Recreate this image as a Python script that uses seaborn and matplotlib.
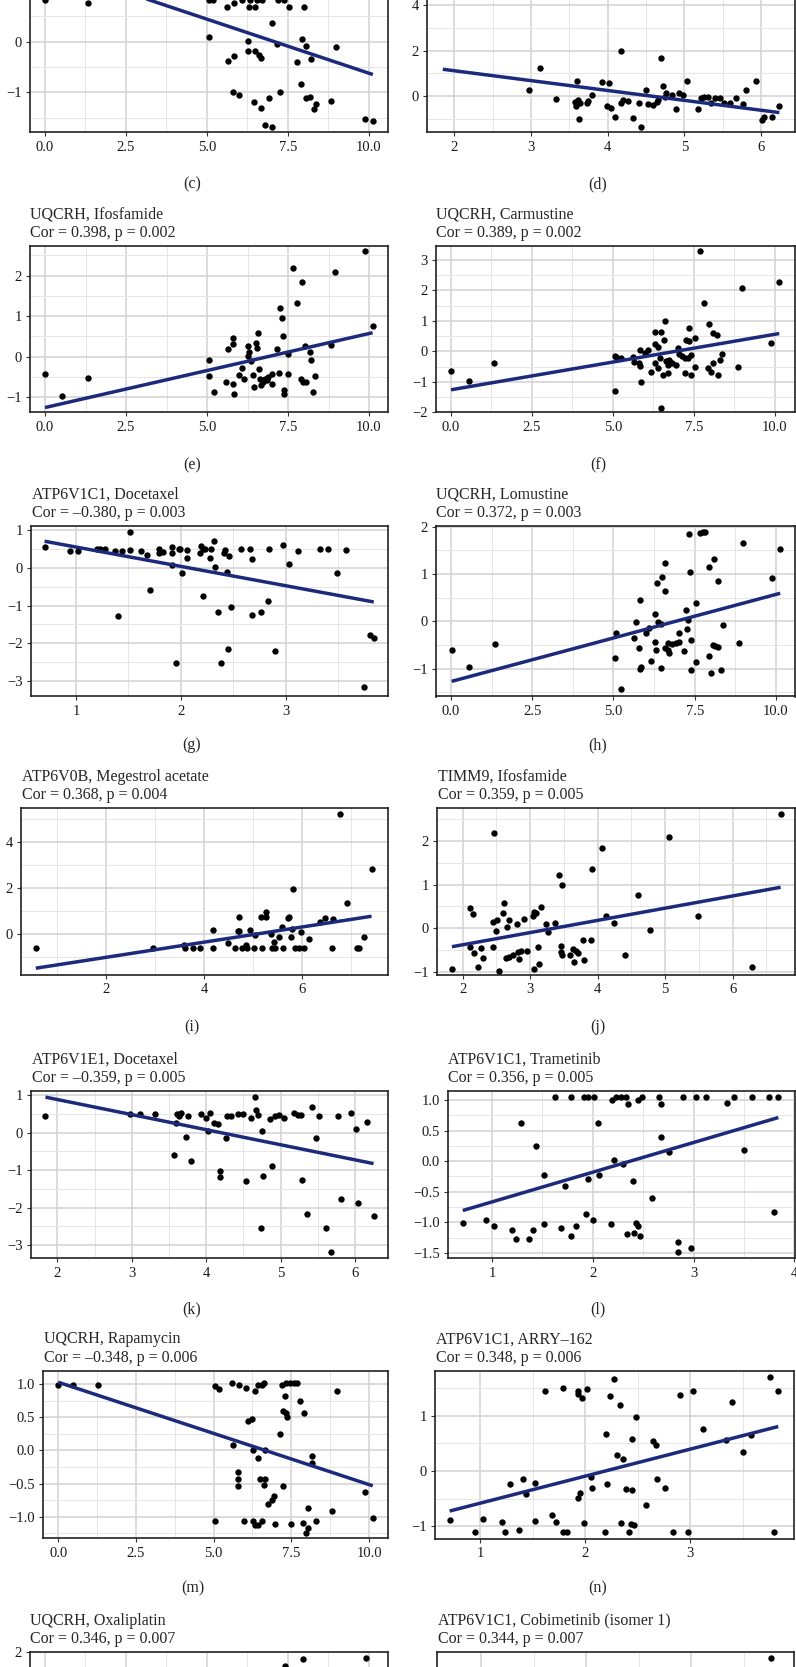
import numpy as np
import matplotlib
matplotlib.use("Agg")
import matplotlib.pyplot as plt
import seaborn as sns
from matplotlib.ticker import MultipleLocator

# ---- data (gene expression vs drug sensitivity) ----
c_x = [0.00, 1.34, 5.05, 5.20, 5.61, 5.82, 6.08, 6.31, 6.49, 6.33, 6.54, 6.69, 7.00, 7.20, 7.37, 7.52, 7.98,
       5.06, 6.26, 6.28, 6.47, 6.59, 6.66, 7.16, 7.93, 8.06, 8.21, 8.97, 5.66, 5.82, 7.79, 5.80, 5.98, 6.46,
       6.68, 6.91, 7.24, 7.90, 8.06, 8.19, 8.29, 8.35, 8.84, 6.80, 7.00, 9.89, 10.12,
       0.52, 5.07, 5.22, 5.59, 5.79, 6.14, 6.43, 6.61, 6.74, 7.05, 7.26, 7.35, 7.66, 7.92, 8.03]
c_y = [0.82, 0.76, 0.82, 0.82, 0.68, 0.77, 0.82, 0.69, 0.69, 0.82, 0.82, 0.82, 0.375, 0.82, 0.82, 0.68, 0.68,
       0.085, 0.02, -0.18, -0.18, -0.26, -0.32, -0.05, 0.05, -0.09, -0.34, -0.10, -0.38, -0.28, -0.41, -0.99,
       -1.05, -1.19, -1.30, -1.11, -0.99, -0.84, -1.11, -1.09, -1.33, -1.24, -1.18, -1.64, -1.68, -1.53, -1.56,
       1.05, 1.00, 1.07, 0.98, 1.10, 1.02, 1.05, 0.98, 1.10, 1.00, 1.05, 1.02, 0.98, 1.05, 1.00]

d_x = [2.98, 3.12, 3.32, 3.60, 3.57, 3.59, 3.61, 3.64, 3.63, 3.73, 3.75, 3.79, 3.93, 4.02, 3.99, 4.04, 4.10,
       4.17, 4.17, 4.20, 4.26, 4.33, 4.41, 4.44, 4.50, 4.52, 4.59, 4.64, 4.65, 4.69, 4.72, 4.76, 4.75, 4.84,
       4.89, 4.93, 4.98, 5.04, 5.18, 5.22, 5.26, 5.31, 5.35, 5.40, 5.47, 5.52, 5.59, 5.67, 5.76, 5.80, 5.94,
       6.01, 6.04, 6.14, 6.24, 1.85]
d_y = [0.25, 1.25, -0.12, 0.65, -0.25, -0.43, -0.18, -0.29, -1.03, -0.32, -0.21, 0.03, 0.63, 0.56, -0.44,
       -0.54, -0.94, 2.00, -0.29, -0.18, -0.22, -0.99, -0.29, -1.35, 0.26, -0.35, -0.38, -0.25, -0.18, 1.69,
       0.44, 0.15, -0.06, 0.03, -0.56, 0.12, 0.03, 0.66, -0.59, -0.07, -0.03, -0.03, -0.32, -0.07, -0.07,
       -0.32, -0.32, -0.09, -0.37, 0.25, 0.65, -1.06, -0.91, -0.91, -0.46, 5.3]

e_x = [0.00, 0.52, 1.34, 5.06, 5.07, 5.22, 5.59, 5.66, 5.79, 5.81, 5.81, 5.83, 5.98, 6.07, 6.14, 6.27, 6.31,
       6.26, 6.35, 6.43, 6.45, 6.51, 6.53, 6.58, 6.61, 6.65, 6.68, 6.74, 6.79, 6.84, 6.89, 7.00, 7.00, 7.15,
       7.23, 7.25, 7.30, 7.35, 7.37, 7.37, 7.50, 7.50, 7.66, 7.77, 7.92, 7.89, 7.97, 8.05, 8.03, 8.18, 8.20,
       8.33, 8.28, 8.83, 8.96, 9.87, 10.11]
e_y = [-0.44, -0.96, -0.53, -0.08, -0.47, -0.88, -0.63, 0.19, 0.46, 0.32, -0.67, -0.92, -0.45, -0.29, -0.55,
       0.26, 0.12, 0.02, -0.11, -0.45, -0.76, 0.33, 0.21, 0.58, -0.30, -0.55, -0.70, -0.62, -0.56, -0.58,
       -0.49, -0.43, -0.67, 0.18, -0.41, 1.20, 0.96, 0.50, -0.82, -0.92, 0.07, -0.43, 2.19, 1.33, 1.84,
       -0.55, -0.62, -0.62, 0.26, 0.12, -0.08, -0.48, -0.88, 0.29, 2.08, 2.61, 0.76]

f_x = [0.00, 0.55, 1.34, 5.07, 5.10, 5.07, 5.25, 5.63, 5.66, 5.84, 5.82, 5.85, 5.87, 6.00, 6.08, 6.18, 6.31,
       6.30, 6.38, 6.31, 6.38, 6.47, 6.49, 6.49, 6.54, 6.57, 6.60, 6.64, 6.69, 6.75, 6.69, 6.82, 6.95, 7.00,
       7.05, 7.15, 7.22, 7.22, 7.26, 7.31, 7.34, 7.36, 7.41, 7.41, 7.54, 7.54, 7.70, 7.81, 7.93, 7.96, 8.03,
       8.08, 8.08, 8.21, 8.24, 8.31, 8.37, 8.86, 9.00, 9.89, 10.14]
f_y = [-0.65, -0.97, -0.39, -0.15, -0.20, -1.31, -0.23, -0.18, -0.34, 0.04, -0.39, -0.47, -1.00, -0.04, 0.04,
       -0.69, 0.65, 0.23, 0.15, -0.37, -0.56, -0.23, 0.65, -1.85, -0.76, 0.39, 1.00, -0.32, -0.45, -0.28,
       -0.72, -0.37, -0.45, 0.12, -0.10, -0.15, -0.21, -0.70, 0.39, -0.23, 0.78, 0.34, -0.12, -0.76, 0.43,
       -0.50, 3.29, 1.58, -0.54, 0.90, -0.67, -0.37, 0.59, 0.54, -0.76, -0.28, -0.07, -0.50, 2.07, 0.28, 2.29]

g_x = [0.70, 0.94, 1.02, 1.20, 1.23, 1.28, 1.37, 1.40, 1.44, 1.52, 1.52, 1.62, 1.68, 1.71, 1.79, 1.79, 1.83,
       1.92, 1.92, 1.92, 1.95, 1.98, 1.99, 2.01, 2.06, 2.06, 2.18, 2.19, 2.21, 2.23, 2.21, 2.28, 2.29, 2.32,
       2.33, 2.35, 2.38, 2.41, 2.42, 2.44, 2.45, 2.46, 2.48, 2.57, 2.66, 2.68, 2.68, 2.76, 2.83, 2.84, 2.90,
       2.97, 3.03, 3.12, 3.33, 3.40, 3.49, 3.58, 3.75, 3.80, 3.84]
g_y = [0.54, 0.44, 0.44, 0.50, 0.50, 0.50, 0.44, -1.28, 0.44, 0.94, 0.47, 0.44, 0.35, -0.58, 0.49, 0.40,
       0.42, 0.54, 0.38, 0.07, -2.53, 0.51, 0.49, -0.15, 0.47, 0.26, 0.38, 0.57, 0.51, 0.49, -0.76, 0.26,
       0.49, 0.71, 0.03, -1.17, -2.53, 0.38, 0.47, -0.11, -2.15, 0.31, -1.03, 0.49, 0.49, 0.22, -1.25, -1.16,
       -0.88, 0.51, -2.20, 0.60, 0.09, 0.44, 0.49, 0.49, -0.15, 0.47, -3.17, -1.77, -1.87]

h_x = [0.02, 0.56, 1.36, 5.08, 5.06, 5.24, 5.62, 5.68, 5.83, 5.80, 5.85, 5.83, 6.01, 6.08, 6.16, 6.29, 6.29,
       6.31, 6.34, 6.38, 6.47, 6.47, 6.49, 6.57, 6.59, 6.57, 6.67, 6.70, 6.69, 6.81, 6.93, 7.01, 7.01, 7.16,
       7.22, 7.26, 7.29, 7.32, 7.36, 7.39, 7.39, 7.53, 7.55, 7.67, 7.75, 7.82, 7.93, 7.94, 8.01, 8.06, 8.11,
       8.08, 8.21, 8.21, 8.32, 8.37, 8.86, 8.98, 9.89, 10.13]
h_y = [-0.61, -0.97, -0.48, -0.24, -0.78, -1.42, -0.36, -0.01, 0.46, -0.57, -0.96, -1.01, -0.25, -0.15,
       -0.83, 0.15, -0.43, -0.61, 0.80, -0.01, -0.06, -0.99, 0.94, 0.65, 1.23, -0.57, -0.45, -0.68, -0.61,
       -0.48, -0.45, -0.43, -0.24, -0.62, 0.23, -0.17, 0.03, 1.85, 1.05, -0.39, -1.03, -0.85, 0.39, 1.87,
       1.89, 1.89, -0.73, 1.14, -1.10, -0.50, -0.52, 1.31, -0.54, 0.85, -1.03, -0.08, -0.46, 1.66, 0.91, 1.53]

i_x = [0.57, 2.96, 3.58, 3.61, 3.77, 3.92, 4.19, 4.19, 4.49, 4.62, 4.70, 4.68, 4.72, 4.77, 4.86, 4.87, 5.01,
       5.17, 4.94, 5.04, 5.16, 5.26, 5.26, 5.36, 5.38, 5.44, 5.43, 5.53, 5.59, 5.60, 5.71, 5.72, 5.76, 5.79,
       5.81, 5.86, 5.94, 6.03, 5.97, 6.13, 6.37, 6.47, 6.61, 6.62, 6.77, 6.91, 7.12, 7.16, 7.25, 7.41]
i_y = [-0.62, -0.62, -0.48, -0.62, -0.62, -0.62, 0.17, -0.62, -0.40, -0.62, 0.72, 0.13, 0.13, -0.62, -0.48,
       -0.62, -0.62, -0.62, 0.17, -0.04, 0.75, 0.72, 0.94, -0.01, -0.62, -0.62, -0.36, -0.12, 0.32, -0.62,
       0.68, 0.75, -0.14, 0.20, 1.96, -0.62, -0.62, -0.62, 0.07, -0.22, 0.53, 0.69, -0.62, 0.64, 5.18, 1.33,
       -0.62, -0.62, -0.14, 2.82]

j_x = [2.11, 2.15, 2.11, 2.16, 2.27, 2.30, 2.45, 2.47, 2.45, 2.51, 2.50, 2.59, 2.61, 2.65, 2.64, 2.68, 2.68,
       2.74, 2.80, 2.82, 2.86, 2.84, 2.91, 2.95, 3.04, 3.06, 3.09, 3.11, 3.16, 3.23, 3.27, 3.37, 3.43, 3.47,
       3.45, 3.45, 3.47, 3.59, 3.64, 3.68, 3.71, 3.78, 3.79, 3.90, 3.91, 4.07, 4.12, 4.24, 4.40, 4.60, 4.78,
       5.06, 5.48, 6.71, 1.84, 2.22, 2.54, 3.05, 3.13, 3.65, 6.29]
j_y = [0.46, 0.32, -0.42, -0.57, -0.46, -0.67, -0.43, 2.18, 0.15, 0.19, -0.06, 0.36, 0.57, 0.02, -0.67, -0.65,
       0.19, -0.62, 0.10, -0.53, -0.51, -0.70, 0.21, -0.51, 0.27, 0.38, 0.34, -0.42, 0.49, 0.09, -0.08, 0.13,
       1.22, 0.99, -0.40, -0.55, -0.61, -0.61, -0.47, -0.51, -0.57, -0.27, -0.72, -0.27, 1.35, 1.83, 0.27,
       0.13, -0.62, 0.75, -0.05, 2.08, 0.28, 2.60, -0.93, -0.89, -0.97, -0.93, -0.81, -0.76, -0.89]

k_x = [1.84, 2.98, 3.11, 3.31, 3.57, 3.59, 3.61, 3.64, 3.66, 3.73, 3.75, 3.80, 3.93, 4.00, 4.03, 4.05, 4.11,
       4.16, 4.18, 4.18, 4.27, 4.28, 4.33, 4.43, 4.50, 4.53, 4.60, 4.66, 4.67, 4.70, 4.75, 4.77, 4.86, 4.89,
       4.92, 4.98, 5.05, 5.18, 5.23, 5.28, 5.29, 5.36, 5.42, 5.48, 5.52, 5.77, 5.81, 5.95, 6.02, 6.04, 6.16,
       6.25, 4.74, 5.61, 5.68]
k_y = [0.45, 0.49, 0.49, 0.49, -0.59, 0.25, 0.50, 0.44, 0.51, -0.11, 0.43, -0.77, 0.49, 0.38, 0.05, 0.51,
       0.25, 0.22, -1.02, -1.19, -0.15, 0.44, 0.43, 0.49, 0.49, -1.30, 0.38, 0.94, 0.60, 0.47, 0.03, -1.15,
       0.35, -0.88, 0.43, 0.47, 0.38, 0.53, 0.47, 0.47, -1.26, -2.17, 0.69, -0.15, 0.45, 0.43, -1.77, 0.51,
       0.09, -1.88, 0.29, -2.22, -2.55, -2.55, -3.19]

l_x = [0.94, 1.29, 1.44, 1.52, 1.62, 1.72, 1.78, 1.91, 1.95, 2.01, 1.95, 1.93, 2.00, 2.05, 2.06, 2.19, 2.21,
       2.23, 2.28, 2.33, 2.30, 2.35, 2.40, 2.45, 2.49, 2.59, 2.66, 2.68, 2.68, 2.76, 2.89, 3.02, 3.12, 3.33,
       3.40, 3.50, 3.58, 3.75, 3.84, 3.80, 0.71, 1.02, 1.20, 1.24, 1.37, 1.41, 1.52, 1.68, 1.78, 1.83, 2.18,
       2.34, 2.41, 2.43, 2.45, 2.47, 2.84, 2.84, 2.97]
l_y = [-0.97, 0.62, 0.25, -0.22, 1.05, -0.40, 1.05, 1.05, 1.05, 1.05, -0.30, -0.86, -0.97, 0.63, -0.22, 1.00,
       0.02, 1.05, 1.05, 1.05, -0.04, 0.93, -0.32, 1.00, 1.05, -0.60, 1.05, 0.94, 0.40, 0.15, 1.05, 1.05, 1.05,
       0.95, 1.05, 0.19, 1.05, 1.05, 1.05, -0.84, -1.01, -1.06, -1.13, -1.28, -1.28, -1.12, -1.03, -1.10,
       -1.22, -1.06, -1.03, -1.20, -1.18, -1.02, -1.06, -1.23, -1.32, -1.49, -1.42]

m_x = [0.00, 0.48, 1.29, 5.04, 5.18, 5.04, 5.58, 5.63, 5.80, 5.79, 5.79, 5.79, 5.98, 6.04, 6.09, 6.23, 6.28,
       6.28, 6.33, 6.33, 6.42, 6.44, 6.55, 6.63, 6.44, 6.49, 6.65, 6.63, 6.57, 6.65, 6.76, 6.87, 6.95, 6.98,
       7.15, 7.19, 7.32, 7.46, 7.58, 7.67, 7.22, 7.24, 7.32, 7.37, 7.30, 7.49, 7.78, 7.91, 7.89, 7.97, 8.05,
       8.05, 8.18, 8.18, 8.29, 8.82, 8.96, 9.87, 10.12]
m_y = [0.99, 0.99, 0.99, 0.97, 0.93, -1.06, 1.02, 0.08, 0.99, -0.33, -0.43, -0.53, -1.06, 0.94, 0.44, 0.47,
       0.01, -1.07, -1.12, 0.90, -0.11, 0.99, 0.99, 1.02, -1.12, -0.43, -0.43, -0.52, -1.07, 0.01, -0.81,
       -0.75, -0.68, -1.11, 0.25, 0.99, 1.02, 1.02, 1.02, 1.02, -0.54, 0.60, 0.56, 0.51, 0.83, -1.11, 0.74,
       0.56, -1.10, -1.25, -1.17, -0.87, -0.08, -0.19, -1.07, -0.92, 0.90, -0.63, -1.02]

n_x = [0.71, 0.95, 1.03, 1.21, 1.24, 1.29, 1.37, 1.41, 1.44, 1.52, 1.52, 1.62, 1.69, 1.72, 1.79, 1.79, 1.83,
       1.93, 1.93, 1.97, 1.93, 1.95, 1.99, 2.02, 2.06, 2.07, 2.19, 2.20, 2.21, 2.24, 2.28, 2.30, 2.33, 2.34,
       2.36, 2.39, 2.42, 2.44, 2.47, 2.45, 2.45, 2.49, 2.58, 2.65, 2.68, 2.69, 2.76, 2.84, 2.98, 2.90, 3.03,
       3.12, 3.34, 3.40, 3.50, 3.58, 3.76, 3.80, 3.84]
n_y = [-0.89, -1.10, -0.86, -0.92, -1.10, -0.23, -1.07, -0.14, -0.41, -0.21, -0.90, 1.46, -0.80, -0.92, 1.51,
       -1.10, -1.10, 1.46, 1.39, 1.33, -0.48, -0.40, -0.95, 1.48, -0.11, -0.31, -1.10, 0.68, -0.23, 1.36,
       1.67, 0.29, 1.19, -0.95, 0.22, -0.33, -1.10, -0.96, -0.98, 0.59, -0.35, 0.98, -0.62, 0.55, 0.48,
       -0.14, -0.30, -1.10, -1.10, 1.37, 1.45, 0.77, 0.57, 1.25, 0.35, 0.66, 1.70, -1.10, 1.45]

# bottom row: only the top edge of these panels is in the crop
o_x = [7.41, 7.95, 9.90]
o_y = [1.72, 1.86, 1.88]
p_x = [3.76]
p_y = [1.74]

titles = {
    "e": ("UQCRH, Ifosfamide", "Cor = 0.398, p = 0.002"),
    "f": ("UQCRH, Carmustine", "Cor = 0.389, p = 0.002"),
    "g": ("ATP6V1C1, Docetaxel", "Cor = \u20130.380, p = 0.003"),
    "h": ("UQCRH, Lomustine", "Cor = 0.372, p = 0.003"),
    "i": ("ATP6V0B, Megestrol acetate", "Cor = 0.368, p = 0.004"),
    "j": ("TIMM9, Ifosfamide", "Cor = 0.359, p = 0.005"),
    "k": ("ATP6V1E1, Docetaxel", "Cor = \u20130.359, p = 0.005"),
    "l": ("ATP6V1C1, Trametinib", "Cor = 0.356, p = 0.005"),
    "m": ("UQCRH, Rapamycin", "Cor = \u20130.348, p = 0.006"),
    "n": ("ATP6V1C1, ARRY\u2013162", "Cor = 0.348, p = 0.006"),
    "o": ("UQCRH, Oxaliplatin", "Cor = 0.346, p = 0.007"),
    "p": ("ATP6V1C1, Cobimetinib (isomer 1)", "Cor = 0.344, p = 0.007"),
}

W, H = 796, 1667
NAVY = "#1c2a7c"

sns.set_style("white")
plt.rcParams["font.family"] = ["Liberation Serif", "DejaVu Serif"]
plt.rcParams["axes.unicode_minus"] = True

fig = plt.figure(figsize=(W / 100, H / 100), dpi=100)


def panel(box, x, y, xlim, ylim, xstep, ystep, key=None, fit=True, xlabels=True):
    left, top, right, bottom = box
    ax = fig.add_axes([left / W, 1 - bottom / H, (right - left) / W, (bottom - top) / H])
    if fit:
        sns.regplot(x=np.array(x), y=np.array(y), ax=ax, ci=None, truncate=True,
                    scatter_kws={"s": 21, "color": "black", "linewidths": 0, "alpha": 1, "zorder": 3},
                    line_kws={"color": NAVY, "lw": 2.5, "zorder": 4, "solid_capstyle": "butt"})
    else:
        sns.scatterplot(x=x, y=y, ax=ax, s=21, color="black", linewidth=0, zorder=3)
    ax.set_xlim(*xlim)
    ax.set_ylim(*ylim)
    ax.set_xlabel("")
    ax.set_ylabel("")
    ax.xaxis.set_major_locator(MultipleLocator(xstep))
    ax.xaxis.set_minor_locator(MultipleLocator(xstep / 2))
    ax.yaxis.set_major_locator(MultipleLocator(ystep))
    ax.yaxis.set_minor_locator(MultipleLocator(ystep / 2))
    ax.set_axisbelow(True)
    ax.grid(which="major", color="#d2d2d2", lw=1.1)
    ax.grid(which="minor", color="#e6e6e6", lw=0.7)
    ax.tick_params(which="major", direction="out", length=3, width=0.8, color="#333333",
                   labelsize=10.5, labelcolor="#1a1a1a", pad=3, bottom=True, left=True,
                   labelbottom=xlabels)
    ax.tick_params(which="minor", length=0)
    for s in ax.spines.values():
        s.set_visible(True)
        s.set_color("#222222")
        s.set_linewidth(1.2)
    if key in titles:
        l1, l2 = titles[key]
        fig.text((left + 0.5) / W, 1 - (top - 27.5) / H, l1, fontsize=11.5, va="baseline", ha="left")
        fig.text((left + 0.5) / W, 1 - (top - 9) / H, l2, fontsize=11.5, va="baseline", ha="left")
    return ax


panel((30, -35, 388, 132.3), c_x, c_y, (-0.463, 10.587), (-1.789, 1.513), 2.5, 1)
panel((427, -35, 795, 132.3), d_x, d_y, (1.644, 6.443), (-1.60, 5.78), 1, 2)
panel((30, 245.7, 388, 412.3), e_x, e_y, (-0.463, 10.586), (-1.374, 2.74), 2.5, 1, "e")
panel((436, 245.7, 795, 412.3), f_x, f_y, (-0.463, 10.627), (-2.0, 3.47), 2.5, 1, "f")
panel((31, 526, 388, 696.5), g_x, g_y, (0.571, 3.976), (-3.41, 1.106), 1, 1, "g")
panel((436, 526, 795, 696.5), h_x, h_y, (-0.4615, 10.585), (-1.589, 2.015), 2.5, 1, "h")
panel((21, 808.3, 388, 975), i_x, i_y, (0.268, 7.746), (-1.776, 5.446), 2, 2, "i")
panel((437, 808.3, 795, 975), j_x, j_y, (1.619, 6.923), (-1.066, 2.74), 1, 1, "j")
panel((31, 1090.7, 388, 1258.3), k_x, k_y, (1.646, 6.444), (-3.347, 1.114), 1, 1, "k")
panel((448, 1090.7, 795, 1258.3), l_x, l_y, (0.563, 4.005), (-1.59, 1.152), 1, 0.5, "l")
panel((43, 1370.7, 388, 1538.3), m_x, m_y, (-0.49, 10.61), (-1.326, 1.205), 2.5, 0.5, "m")
panel((435, 1370.7, 794, 1538.5), n_x, n_y, (0.571, 3.99), (-1.222, 1.819), 1, 1, "n")
panel((30, 1652, 388, 1819), o_x, o_y, (-0.463, 10.587), (-1.5, 2.01), 2.5, 1, "o", fit=False, xlabels=False)
panel((437, 1652, 794, 1819), p_x, p_y, (0.581, 3.98), (-1.2, 1.85), 1, 1, "p", fit=False, xlabels=False)

labels = [("(c)", 192, 184), ("(d)", 598, 184), ("(e)", 192, 465), ("(f)", 598, 465),
          ("(g)", 192, 745), ("(h)", 598, 745), ("(i)", 192, 1027), ("(j)", 598, 1027),
          ("(k)", 192, 1309), ("(l)", 598, 1309), ("(m)", 193, 1588), ("(n)", 598, 1588)]
for txt, px, py in labels:
    fig.text(px / W, 1 - py / H, txt, fontsize=11.5, ha="center", va="center")

fig.savefig("out.png", dpi=100)
